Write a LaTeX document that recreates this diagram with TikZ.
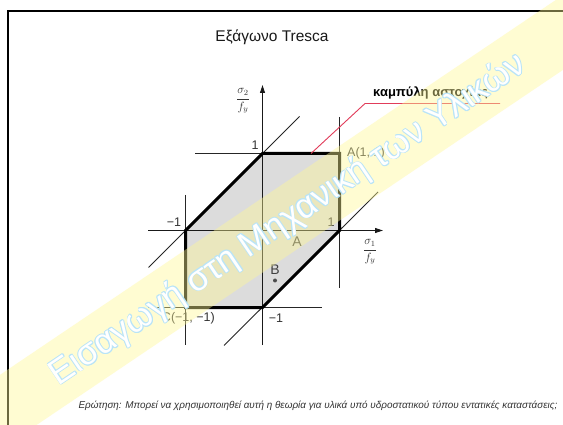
\documentclass[tikz,border=0pt]{standalone}
\usepackage{fontspec}
\setmainfont{Liberation Sans}
\usepackage{amsmath}
\usetikzlibrary{arrows.meta}
\definecolor{wmblue}{RGB}{185,228,248}
\definecolor{wmyellow}{RGB}{255,248,150}
\definecolor{redline}{RGB}{225,60,90}
\definecolor{hexfill}{RGB}{220,220,220}
\newcommand{\wmtext}{Εισαγωγή στη Μηχανική των Υλικών}
\begin{document}
\begin{tikzpicture}[x=1pt,y=-1pt,
  thinline/.style={line width=0.9pt, draw=black!85},
  hexedge/.style={line width=3pt, line join=miter, draw=black},
  lbl/.style={font=\fontsize{12.5}{12.5}\selectfont, text=black!80, inner sep=0pt},
  biglbl/.style={font=\fontsize{14}{14}\selectfont, text=black!75, inner sep=0pt},
  axisarrow/.style={line width=1pt, draw=black!90, -{Triangle[length=8pt,width=5pt]}},
  wm/.style={rotate=34, font=\fontsize{35}{35}\selectfont, inner sep=0pt}]
\useasboundingbox (0,0) rectangle (563,425);
\fill[white] (0,0) rectangle (563,425);
% frame
\coordinate (fa) at (8,425);
\coordinate (fb) at (8,11);
\coordinate (fc) at (563,11);
\draw[line width=2.5pt] (fa) -- (fb) -- (fc);
% title
\node[font=\fontsize{15.5}{15.5}\selectfont, text=black!90] (title) at (272,37) {Εξάγωνο Tresca};
% key points
\coordinate (O) at (262.5,230.5);
\coordinate (P10) at (339.5,230.5);
\coordinate (P11) at (339.5,153.5);
\coordinate (P01) at (262.5,153.5);
\coordinate (Pm10) at (185.5,230.5);
\coordinate (Pmm) at (185.5,307.5);
\coordinate (P0m) at (262.5,307.5);
% hexagon fill
\fill[hexfill] (P10) -- (P11) -- (P01) -- (Pm10) -- (Pmm) -- (P0m) -- cycle;
% thin lines
\coordinate (xa) at (148,230.5); \coordinate (xb) at (383,230.5);
\coordinate (ya) at (262.5,345); \coordinate (yb) at (262.5,85);
\coordinate (h1a) at (195,153.5);
\coordinate (hm1a) at (148,307.5); \coordinate (hm1b) at (322,307.5);
\coordinate (vm1a) at (185.5,195); \coordinate (vm1b) at (185.5,345);
\coordinate (v1a) at (339.5,117); \coordinate (v1b) at (339.5,288);
\coordinate (d1a) at (148.5,267.5); \coordinate (d1b) at (299.5,116.5);
\coordinate (d2a) at (224,345.5); \coordinate (d2b) at (378,192);
\draw[thinline] (h1a) -- (P11);
\draw[thinline] (hm1a) -- (hm1b);
\draw[thinline] (vm1a) -- (vm1b);
\draw[thinline] (v1a) -- (v1b);
\draw[thinline] (d1a) -- (d1b);
\draw[thinline] (d2a) -- (d2b);
\draw[axisarrow] (xa) -- (xb);
\draw[axisarrow] (ya) -- (yb);
% hexagon edge
\draw[hexedge] (P10) -- (P11) -- (P01) -- (Pm10) -- (Pmm) -- (P0m) -- cycle;
% labels
\node[lbl] (l1) at (255,145) {1};
\node[lbl] (lm1) at (174,222) {−1};
\node[lbl] (l1x) at (331,222) {1};
\node[lbl] (lm1y) at (276,318) {−1};
\node[lbl, anchor=east] (lc) at (215,318) {C(−1, −1)};
\node[lbl, anchor=west] (la) at (347,153) {A(1, 1)};
\node[biglbl] (lA) at (297,242) {A};
\node[biglbl] (lB) at (275,270) {B};
\fill[black!70] (275,280.5) circle (2pt);
\node[text=black!80, inner sep=0pt] (s2) at (243,101) {\fontsize{12}{12}\selectfont$\dfrac{\sigma_2}{f_y}$};
\node[text=black!80, inner sep=0pt] (s1) at (370,252) {\fontsize{12}{12}\selectfont$\dfrac{\sigma_1}{f_y}$};
% failure curve label
\coordinate (r1) at (311,153.5);
\coordinate (r2) at (365,103.5);
\coordinate (r3) at (500,103.5);
\draw[redline, line width=0.9pt] (r1) -- (r2) -- (r3);
\node[font=\bfseries\fontsize{13}{13}\selectfont, anchor=base west, inner sep=0pt] (curve) at (373,97) {καμπύλη αστοχίας};
% question
\node[font=\itshape\fontsize{9.9}{9.9}\selectfont, text=black!80] (q) at (318,406) {Ερώτηση: Μπορεί να χρησιμοποιηθεί αυτή η θεωρία για υλικά υπό υδροστατικού τύπου εντατικές καταστάσεις;};
% watermark band
\node[rotate=34, minimum width=740pt, minimum height=62pt, fill=wmyellow, fill opacity=0.42, inner sep=0pt] (band) at (288,218) {};
% watermark text
\foreach \dx/\dy [count=\i] in {0.8/0, -0.8/0, 0/0.8, 0/-0.8, 0.6/0.6, -0.6/0.6, 0.6/-0.6, -0.6/-0.6}
  \node[wm, text=wmblue] (wm\i) at (288+\dx,220+\dy) {\wmtext};
\node[wm, text=white] (wmtop) at (288,220) {\wmtext};
\end{tikzpicture}
\end{document}
